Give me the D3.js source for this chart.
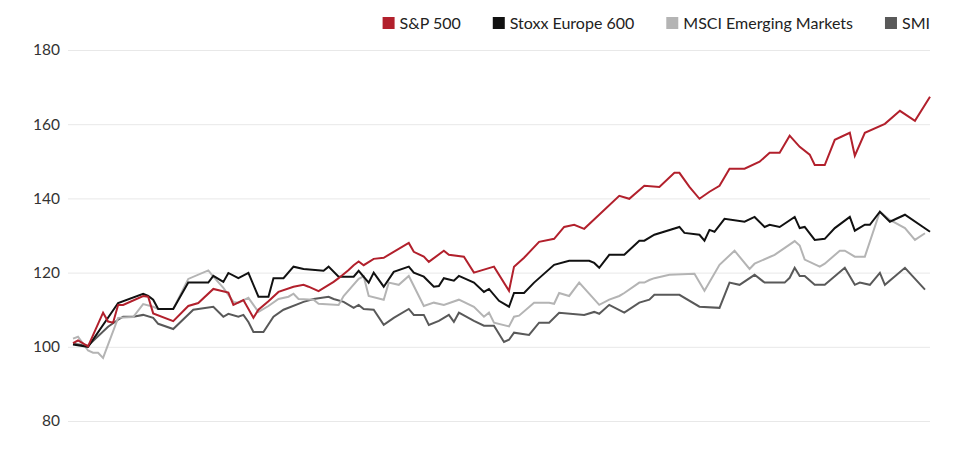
<!DOCTYPE html>
<html>
<head>
<meta charset="utf-8">
<script src="https://cdn.jsdelivr.net/npm/d3@7"></script>
<style>
  html, body { margin: 0; padding: 0; background: #fff; }
  svg { display: block; font-family: Lato, "Open Sans", sans-serif; }
</style>
</head>
<body>
<svg id="chart" width="960" height="450"></svg>
<script>
// ---- data: [period index, index level] ----
const seriesNames = ["S&P 500", "Stoxx Europe 600", "MSCI Emerging Markets", "SMI"];
const seriesColors = ["#b2202c", "#111111", "#b4b4b4", "#595959"];
const yTicks = [80, 100, 120, 140, 160, 180];
const periodCount = 171;

const sp500 = [[0,101],[1,101.7],[3,100.1],[6,109.2],[7,106.8],[8,106.5],[9,111.3],[10,111.3],[14,113.7],[15,113.5],[16,109],[20,106.9],[23,111],[25,111.8],[28,115.6],[31,114.6],[32,111.3],[34,112.6],[36,107.8],[37,110],[39,112.3],[41,114.8],[44,116.2],[46,116.7],[47,116.2],[49,115],[52,117.5],[53,118.5],[55,120.7],[56,122],[57,123],[58,122],[60,123.7],[62,124],[67,128],[68,125.6],[70,124.3],[71,122.9],[74,125.9],[75,124.8],[78,124.3],[80,120],[84,121.6],[87,115.1],[88,121.6],[90,124],[93,128.3],[96,129.1],[98,132.3],[100,132.9],[102,131.8],[109,140.7],[111,139.9],[114,143.4],[117,143.1],[120,146.9],[121,146.9],[123,143.1],[125,139.9],[127,141.8],[129,143.4],[131,148],[134,148],[137,149.9],[139,152.3],[141,152.3],[143,156.9],[145,153.9],[147,151.8],[148,149],[150,149],[152,155.8],[155,157.7],[156,151.5],[158,157.7],[162,160.1],[165,163.6],[168,160.9],[171,167.4]];

const stoxx600 = [[0,100.6],[3,100],[9,111.8],[14,114.3],[15,113.7],[16,112.7],[17,110.2],[20,110.2],[23,117.3],[27,117.3],[28,119.1],[30,117.5],[31,119.9],[33,118.5],[35,119.9],[37,113.5],[39,113.5],[40,118.5],[42,118.5],[44,121.6],[46,121],[50,120.5],[51,121.6],[53,118.9],[56,118.9],[57,120.5],[59,117.3],[60,120],[62,116.2],[64,120.2],[67,121.6],[68,120],[70,118.9],[72,116.2],[73,116.4],[74,118.5],[76,117.8],[77,119.1],[80,117.3],[82,114.8],[83,115.6],[85,112.4],[87,110.8],[88,114.5],[90,114.5],[92,117.3],[96,122.1],[99,123.2],[103,123.2],[104,122.6],[105,121.3],[107,124.8],[110,124.8],[113,128.6],[114,128.6],[116,130.2],[121,132.3],[122,130.7],[125,130.2],[126,128.6],[127,131.5],[128,131],[130,134.5],[134,133.7],[136,135],[138,132.3],[139,132.9],[141,132.3],[144,135],[145,132],[146,132.3],[148,128.8],[150,129.1],[152,132],[155,135],[156,131.3],[158,132.9],[159,132.9],[161,136.4],[163,133.7],[166,135.6],[171,131]];

const msciEm = [[0,102.2],[1,102.7],[3,99],[4,98.4],[5,98.4],[6,97],[9,107.8],[12,108],[14,111.5],[16,110.8],[17,110.2],[20,110.2],[23,118.3],[27,120.6],[28,118.9],[30,115.9],[32,112.1],[33,111.9],[35,113.2],[37,109.4],[39,111],[41,112.9],[43,113.5],[44,114.3],[45,112.9],[48,112.7],[49,111.6],[53,111.3],[54,113.7],[57,118.3],[58,119],[59,113.7],[62,112.7],[63,117.3],[65,116.7],[67,119.1],[70,111],[72,111.9],[74,111.3],[77,112.7],[80,110.8],[82,108.1],[83,109.2],[84,106.5],[87,105.5],[88,108.1],[89,108.4],[92,111.9],[95,111.9],[96,111.6],[97,114.5],[99,113.7],[101,117.3],[105,111.3],[107,112.7],[109,113.7],[110,114.5],[113,117.3],[114,117.3],[115,118],[116,118.5],[119,119.4],[124,119.7],[126,115.1],[129,122.1],[132,125.9],[135,121],[136,122.4],[140,124.8],[144,128.5],[145,127.3],[146,123.5],[149,121.6],[150,122.4],[153,125.9],[154,125.9],[156,124.3],[158,124.3],[161,136.4],[163,134.2],[166,132],[168,128.8],[170,130.6]];

const smi = [[0,100.8],[3,100.3],[7,105.4],[9,107.3],[10,108.1],[12,108.1],[14,108.6],[16,107.8],[17,106.2],[20,104.8],[24,110],[28,110.8],[30,108.1],[31,108.9],[33,108.1],[34,108.6],[35,106.7],[36,104],[38,104],[40,108.1],[42,110],[46,112.1],[48,112.9],[51,113.5],[52,112.9],[54,112.1],[56,110.5],[57,111.3],[58,110.2],[60,110],[62,105.9],[64,107.8],[67,110.2],[68,108.6],[70,108.6],[71,105.9],[73,107],[75,108.6],[76,106.7],[77,109.2],[80,107],[82,105.7],[84,105.7],[86,101.3],[87,101.9],[88,103.8],[91,103.2],[93,106.5],[95,106.5],[97,109.2],[102,108.6],[104,109.4],[105,108.9],[107,111.3],[110,109.2],[113,111.9],[115,112.7],[116,114],[121,114],[125,110.8],[129,110.5],[131,117.3],[133,116.7],[136,119.4],[138,117.3],[142,117.3],[143,118.6],[144,121.3],[145,119.1],[146,119.1],[148,116.7],[150,116.7],[154,121.3],[156,116.7],[157,117.3],[159,116.7],[161,119.9],[162,116.7],[166,121.3],[170,115.4]];

const seriesData = [sp500, stoxx600, msciEm, smi];

// ---- chart ----
const svg = d3.select("#chart");
const x = d3.scaleLinear().domain([0, periodCount]).range([73, 930]);
const y = d3.scaleLinear().domain([80, 180]).range([421, 50]);

// grid + y axis
const yAxis = d3.axisLeft(y).tickValues(yTicks).tickSize(-(930 - 68)).tickPadding(8).tickFormat(d3.format("d"));
const gy = svg.append("g").attr("transform", "translate(68,0)").call(yAxis);
gy.select(".domain").remove();
gy.selectAll(".tick line").attr("stroke", "#e8e8e8").attr("stroke-width", 1);
gy.selectAll(".tick text").attr("fill", "#333").style("font-size", "15.5px").style("font-family", "Lato, sans-serif");

// lines (drawn back to front: SMI, MSCI, Stoxx, S&P)
const line = d3.line().x(d => x(d[0])).y(d => y(d[1]));
const order = [3, 2, 1, 0];
svg.append("g").selectAll("path").data(order).join("path")
  .attr("d", i => line(seriesData[i]))
  .attr("fill", "none")
  .attr("stroke", i => seriesColors[i])
  .attr("stroke-width", 2)
  .attr("stroke-linejoin", "miter");

// legend, right aligned
const legend = svg.append("g");
const items = legend.selectAll("g").data(seriesNames).join("g");
items.append("rect").attr("width", 12).attr("height", 12).attr("y", -6)
  .attr("fill", (d, i) => seriesColors[i]);
items.append("text").text(d => d).attr("x", 17).attr("dy", "0.35em")
  .attr("fill", "#222").style("font-size", "16px").style("font-family", "Lato, sans-serif");
let cursor = 930;
const widths = [];
items.each(function(d, i) { widths[i] = 17 + d3.select(this).select("text").node().getComputedTextLength(); });
for (let i = seriesNames.length - 1; i >= 0; i--) {
  cursor -= widths[i];
  d3.select(items.nodes()[i]).attr("transform", `translate(${cursor},23)`);
  cursor -= 32;
}
</script>
</body>
</html>
